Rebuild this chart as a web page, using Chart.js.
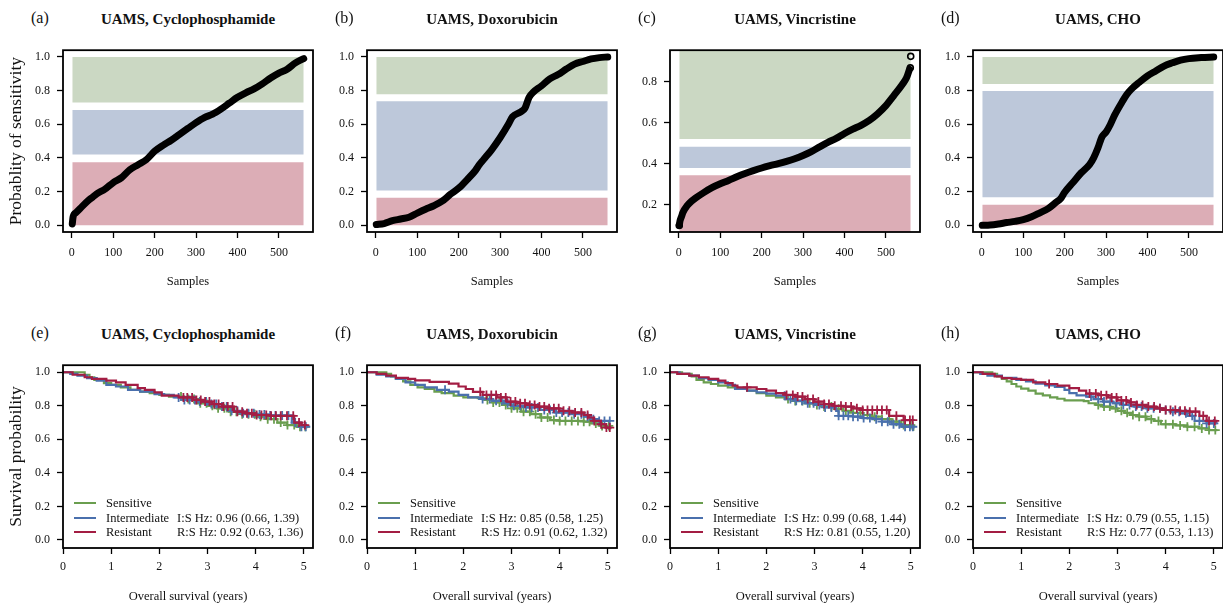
<!DOCTYPE html>
<html>
<head>
<meta charset="utf-8">
<script src="https://cdn.jsdelivr.net/npm/chart.js@4.4.0/dist/chart.umd.min.js"></script>
<style>
  body { margin: 0; width: 1223px; height: 604px; position: relative; overflow: hidden; background: #fff;
         font-family: "Liberation Serif", "Times New Roman", serif; color: #111; }
  canvas { position: absolute; }
  .letter { position: absolute; font-size: 16px; transform: translateY(-50%); white-space: nowrap; }
  .title { position: absolute; font-size: 15px; font-weight: bold; transform: translate(-50%, -50%); white-space: nowrap; }
  .legtxt { position: absolute; font-size: 12.5px; line-height: 1; transform: translateY(-50%); white-space: nowrap; }
  .legline { position: absolute; height: 2px; width: 22px; }
</style>
</head>
<body>
<script>
// ---- data ----
const drugs = ['Cyclophosphamide', 'Doxorubicin', 'Vincristine', 'CHO'];
const topLetters = ['(a)', '(b)', '(c)', '(d)'];
const bottomLetters = ['(e)', '(f)', '(g)', '(h)'];
const groups = ['Sensitive', 'Intermediate', 'Resistant'];

// sorted probability of sensitivity (sample rank -> probability)
const cycRank = [1, 3, 10, 20, 40, 50, 60, 80, 100, 120, 140, 160, 180, 200, 220, 240, 260, 280, 300, 320, 340, 360, 380, 400, 420, 440, 460, 480, 500, 520, 540, 560];
const cycProb = [0.008, 0.05, 0.075, 0.10, 0.148, 0.167, 0.187, 0.215, 0.254, 0.283, 0.33, 0.36, 0.39, 0.44, 0.475, 0.505, 0.54, 0.575, 0.61, 0.64, 0.66, 0.69, 0.725, 0.76, 0.787, 0.81, 0.84, 0.875, 0.904, 0.927, 0.965, 0.99];

const doxRank = [1, 20, 40, 60, 80, 100, 120, 140, 160, 180, 200, 220, 240, 250, 260, 280, 300, 320, 330, 350, 360, 370, 380, 400, 420, 440, 460, 480, 500, 520, 540, 560];
const doxProb = [0.004, 0.01, 0.027, 0.037, 0.048, 0.072, 0.095, 0.116, 0.143, 0.184, 0.22, 0.27, 0.324, 0.36, 0.39, 0.45, 0.52, 0.60, 0.645, 0.674, 0.695, 0.76, 0.79, 0.828, 0.87, 0.895, 0.928, 0.957, 0.973, 0.988, 0.996, 1.0];

const vinRank = [1, 3, 6, 10, 20, 30, 40, 60, 80, 100, 120, 140, 160, 180, 200, 220, 240, 260, 280, 300, 320, 340, 360, 380, 400, 420, 440, 460, 480, 500, 520, 540, 550, 557];
const vinProb = [0.10, 0.123, 0.14, 0.163, 0.195, 0.216, 0.232, 0.259, 0.283, 0.302, 0.318, 0.336, 0.352, 0.366, 0.379, 0.39, 0.40, 0.411, 0.424, 0.44, 0.459, 0.482, 0.504, 0.523, 0.547, 0.568, 0.587, 0.611, 0.643, 0.683, 0.734, 0.787, 0.819, 0.86];
const vinOutRank = [1, 559, 560];
const vinOutProb = [0.099, 0.867, 0.923];

const choRank = [1, 20, 40, 60, 80, 100, 120, 140, 160, 180, 190, 200, 220, 240, 260, 270, 280, 290, 300, 310, 320, 340, 350, 360, 380, 400, 420, 440, 460, 480, 500, 530, 560];
const choProb = [0.0, 0.002, 0.008, 0.016, 0.023, 0.033, 0.05, 0.074, 0.099, 0.138, 0.157, 0.196, 0.254, 0.312, 0.36, 0.40, 0.457, 0.525, 0.554, 0.597, 0.651, 0.738, 0.777, 0.806, 0.849, 0.888, 0.917, 0.946, 0.965, 0.981, 0.99, 0.996, 1.0];

// class bands [low, high]: sensitive, intermediate, resistant
const cycBands = [[0.73, 1.0], [0.42, 0.685], [0.0, 0.375]];
const doxBands = [[0.779, 1.0], [0.207, 0.736], [0.0, 0.163]];
const vinBands = [[0.52, 1.0], [0.379, 0.482], [0.0, 0.344]];
const choBands = [[0.839, 1.0], [0.167, 0.797], [0.0, 0.122]];

// Kaplan-Meier steps (time in years, survival) and censoring times
const cycSensT = [0, 0.45, 0.55, 0.65, 0.85, 1.0, 1.2, 1.4, 1.6, 1.8, 2.0, 2.2, 2.5, 2.8, 3.0, 3.2, 3.45, 3.7, 4.0, 4.25, 4.45, 4.65, 4.85, 5.05];
const cycSensS = [1, 0.985, 0.97, 0.955, 0.935, 0.925, 0.91, 0.895, 0.885, 0.875, 0.865, 0.855, 0.84, 0.815, 0.80, 0.785, 0.765, 0.75, 0.735, 0.72, 0.70, 0.685, 0.675, 0.665];
const cycSensC = [2.45, 2.6, 2.72, 2.85, 2.98, 3.1, 3.22, 3.35, 3.48, 3.6, 3.72, 3.85, 3.98, 4.1, 4.25, 4.38, 4.52, 4.66, 4.8, 4.92, 5.03];
const cycInterT = [0, 0.15, 0.3, 0.5, 0.7, 0.9, 1.1, 1.35, 1.6, 1.9, 2.1, 2.3, 2.5, 2.75, 3.0, 3.2, 3.5, 3.7, 4.0, 4.3, 4.75, 4.95, 5.05];
const cycInterS = [1, 0.99, 0.98, 0.965, 0.95, 0.925, 0.915, 0.895, 0.885, 0.87, 0.865, 0.85, 0.835, 0.825, 0.81, 0.795, 0.77, 0.755, 0.748, 0.742, 0.70, 0.675, 0.67];
const cycInterC = [2.4, 2.52, 2.63, 2.74, 2.84, 2.97, 3.08, 3.18, 3.3, 3.4, 3.5, 3.62, 3.74, 3.85, 3.96, 4.08, 4.18, 4.3, 4.41, 4.55, 4.68, 4.82, 4.95, 5.04];
const cycResT = [0, 0.2, 0.45, 0.6, 0.9, 1.1, 1.3, 1.55, 1.7, 1.9, 2.05, 2.4, 2.7, 2.9, 3.1, 3.3, 3.55, 3.8, 4.0, 4.3, 4.8, 4.95, 5.05];
const cycResS = [1, 0.985, 0.97, 0.96, 0.95, 0.94, 0.925, 0.905, 0.895, 0.88, 0.86, 0.85, 0.835, 0.825, 0.81, 0.795, 0.765, 0.755, 0.745, 0.74, 0.70, 0.685, 0.68];
const cycResC = [2.5, 2.58, 2.68, 2.77, 2.86, 2.95, 3.04, 3.14, 3.23, 3.33, 3.42, 3.52, 3.62, 3.72, 3.82, 3.92, 4.02, 4.12, 4.22, 4.32, 4.42, 4.52, 4.65, 4.78, 4.9, 5.02];

const doxSensT = [0, 0.4, 0.5, 0.6, 0.75, 0.9, 1.05, 1.2, 1.4, 1.55, 1.8, 2.0, 2.3, 2.45, 2.6, 2.8, 3.0, 3.2, 3.4, 3.6, 3.8, 4.0, 4.5, 4.65, 4.85, 5.05];
const doxSensS = [1, 0.99, 0.975, 0.96, 0.945, 0.925, 0.91, 0.90, 0.885, 0.875, 0.86, 0.85, 0.845, 0.835, 0.82, 0.805, 0.785, 0.765, 0.75, 0.73, 0.715, 0.71, 0.705, 0.695, 0.68, 0.665];
const doxSensC = [2.5, 2.62, 2.75, 2.88, 3.0, 3.12, 3.25, 3.38, 3.5, 3.62, 3.75, 3.88, 4.0, 4.12, 4.25, 4.38, 4.5, 4.62, 4.75, 4.88, 5.02];
const doxInterT = [0, 0.2, 0.4, 0.6, 0.8, 1.0, 1.2, 1.45, 1.7, 1.9, 2.1, 2.4, 2.6, 2.85, 3.0, 3.3, 3.6, 3.9, 4.2, 4.5, 4.65, 4.8, 5.05];
const doxInterS = [1, 0.985, 0.975, 0.96, 0.94, 0.925, 0.91, 0.895, 0.885, 0.865, 0.85, 0.84, 0.83, 0.815, 0.80, 0.79, 0.775, 0.76, 0.75, 0.735, 0.72, 0.71, 0.71];
const doxInterC = [1.62, 2.4, 2.55, 2.68, 2.8, 2.92, 3.05, 3.18, 3.3, 3.42, 3.55, 3.68, 3.8, 3.93, 4.05, 4.18, 4.3, 4.45, 4.58, 4.7, 4.82, 4.93, 5.04];
const doxResT = [0, 0.2, 0.4, 0.6, 0.85, 1.0, 1.3, 1.7, 1.9, 2.05, 2.2, 2.4, 2.7, 2.9, 3.1, 3.3, 3.5, 3.75, 4.0, 4.25, 4.5, 4.6, 4.7, 4.85, 4.95, 5.05];
const doxResS = [1, 0.99, 0.98, 0.967, 0.96, 0.952, 0.942, 0.932, 0.915, 0.90, 0.883, 0.865, 0.85, 0.825, 0.815, 0.805, 0.795, 0.785, 0.77, 0.76, 0.745, 0.73, 0.71, 0.69, 0.67, 0.66];
const doxResC = [2.35, 2.48, 2.58, 2.68, 2.78, 2.88, 2.98, 3.08, 3.18, 3.28, 3.38, 3.48, 3.58, 3.68, 3.78, 3.88, 3.98, 4.08, 4.2, 4.32, 4.45, 4.58, 4.72, 4.86, 4.97, 5.04];

const vinSensT = [0, 0.25, 0.45, 0.55, 0.7, 0.85, 1.0, 1.2, 1.4, 1.6, 1.8, 2.0, 2.2, 2.4, 2.6, 2.8, 3.0, 3.2, 3.4, 3.6, 3.8, 4.0, 4.2, 4.4, 4.6, 4.8, 5.05];
const vinSensS = [1, 0.99, 0.975, 0.955, 0.94, 0.93, 0.92, 0.91, 0.90, 0.89, 0.875, 0.86, 0.85, 0.84, 0.828, 0.815, 0.805, 0.795, 0.782, 0.77, 0.758, 0.745, 0.735, 0.72, 0.705, 0.685, 0.65];
const vinSensC = [2.45, 2.6, 2.75, 2.9, 3.05, 3.2, 3.35, 3.5, 3.65, 3.8, 3.95, 4.1, 4.25, 4.4, 4.55, 4.7, 4.85, 5.0];
const vinInterT = [0, 0.2, 0.4, 0.6, 0.8, 1.0, 1.2, 1.35, 1.6, 1.8, 2.0, 2.2, 2.4, 2.6, 2.8, 3.0, 3.2, 3.45, 3.5, 3.8, 4.0, 4.2, 4.4, 4.6, 4.8, 5.05];
const vinInterS = [1, 0.99, 0.98, 0.965, 0.955, 0.94, 0.925, 0.90, 0.89, 0.88, 0.873, 0.86, 0.84, 0.83, 0.815, 0.805, 0.79, 0.77, 0.74, 0.735, 0.727, 0.72, 0.705, 0.69, 0.675, 0.66];
const vinInterC = [2.38, 2.5, 2.62, 2.74, 2.86, 2.98, 3.1, 3.22, 3.35, 3.5, 3.6, 3.7, 3.8, 3.9, 4.02, 4.15, 4.28, 4.4, 4.52, 4.64, 4.76, 4.88, 4.98, 5.04];
const vinResT = [0, 0.15, 0.4, 0.6, 0.8, 1.0, 1.15, 1.3, 1.4, 1.8, 2.0, 2.2, 2.4, 2.6, 2.8, 3.0, 3.2, 3.4, 3.6, 3.8, 4.0, 4.55, 4.85, 5.05];
const vinResS = [1, 0.99, 0.98, 0.97, 0.96, 0.95, 0.935, 0.92, 0.91, 0.90, 0.89, 0.875, 0.865, 0.855, 0.84, 0.825, 0.81, 0.80, 0.795, 0.785, 0.775, 0.74, 0.715, 0.71];
const vinResC = [1.6, 2.42, 2.55, 2.65, 2.75, 2.86, 2.97, 3.08, 3.2, 3.3, 3.42, 3.55, 3.65, 3.76, 3.88, 4.0, 4.1, 4.2, 4.3, 4.4, 4.5, 4.7, 4.88, 4.98, 5.04];

const choSensT = [0, 0.4, 0.5, 0.6, 0.7, 0.8, 0.9, 1.0, 1.15, 1.3, 1.45, 1.6, 1.75, 1.9, 2.3, 2.4, 2.55, 2.7, 2.85, 3.0, 3.15, 3.3, 3.45, 3.6, 3.75, 3.9, 4.2, 4.45, 4.7, 4.9, 5.05];
const choSensS = [1, 0.99, 0.975, 0.96, 0.945, 0.93, 0.915, 0.902, 0.89, 0.873, 0.862, 0.85, 0.842, 0.832, 0.828, 0.815, 0.805, 0.795, 0.785, 0.77, 0.758, 0.745, 0.735, 0.72, 0.71, 0.69, 0.683, 0.675, 0.665, 0.655, 0.648];
const choSensC = [2.6, 2.72, 2.84, 2.96, 3.08, 3.2, 3.32, 3.45, 3.58, 3.7, 3.85, 4.0, 4.15, 4.3, 4.45, 4.6, 4.75, 4.9, 5.03];
const choInterT = [0, 0.15, 0.3, 0.6, 0.9, 1.1, 1.3, 1.5, 1.7, 1.9, 2.0, 2.15, 2.35, 2.5, 2.7, 2.9, 3.1, 3.35, 3.6, 3.9, 4.1, 4.3, 4.45, 4.6, 4.85, 5.05];
const choInterS = [1, 0.99, 0.98, 0.967, 0.955, 0.945, 0.932, 0.922, 0.912, 0.895, 0.875, 0.862, 0.855, 0.84, 0.825, 0.815, 0.805, 0.795, 0.785, 0.775, 0.765, 0.755, 0.74, 0.71, 0.695, 0.69];
const choInterC = [2.45, 2.6, 2.72, 2.85, 2.98, 3.12, 3.25, 3.38, 3.5, 3.62, 3.75, 3.88, 4.0, 4.15, 4.28, 4.42, 4.55, 4.7, 4.85, 5.0];
const choResT = [0, 0.2, 0.45, 0.6, 0.8, 1.0, 1.25, 1.5, 1.75, 2.0, 2.2, 2.35, 2.6, 2.8, 3.0, 3.2, 3.4, 3.6, 3.8, 4.0, 4.3, 4.5, 4.7, 4.85, 5.05];
const choResS = [1, 0.99, 0.975, 0.965, 0.96, 0.955, 0.94, 0.93, 0.92, 0.905, 0.89, 0.873, 0.863, 0.85, 0.832, 0.82, 0.805, 0.795, 0.785, 0.775, 0.77, 0.765, 0.74, 0.71, 0.70];
const choResC = [1.58, 2.42, 2.55, 2.66, 2.77, 2.88, 2.98, 3.08, 3.18, 3.28, 3.4, 3.52, 3.64, 3.76, 3.88, 4.0, 4.1, 4.2, 4.3, 4.4, 4.5, 4.62, 4.78, 4.9, 5.02];

// hazard ratios (95% CI)
const hzIS = ['0.96 (0.66, 1.39)', '0.85 (0.58, 1.25)', '0.99 (0.68, 1.44)', '0.79 (0.55, 1.15)'];
const hzRS = ['0.92 (0.63, 1.36)', '0.91 (0.62, 1.32)', '0.81 (0.55, 1.20)', '0.77 (0.53, 1.13)'];

const probTicks = [0, 0.2, 0.4, 0.6, 0.8, 1.0];
const vinProbTicks = [0.2, 0.4, 0.6, 0.8];
const sampleTicks = [0, 100, 200, 300, 400, 500];
const yearTicks = [0, 1, 2, 3, 4, 5];
const survTicks = [0, 0.2, 0.4, 0.6, 0.8, 1.0];

// ---- styling / layout ----
const GREEN = '#6a9e4f', BLUE = '#4a70ad', RED = '#a31d43';
const BAND_COLORS = ['#cbd8c3', '#bdc8da', '#dcadb6'];
const boxLefts = [63, 367, 670, 973];
const FONT = 'Liberation Serif';

// step value of a KM curve at time t
function stepValue(times, surv, t) {
  let v = surv[0];
  for (let i = 0; i < times.length; i++) { if (times[i] <= t) v = surv[i]; }
  return v;
}

const boxPlugin = {
  id: 'box',
  afterDraw(chart) {
    const { ctx, chartArea: a } = chart;
    ctx.save();
    ctx.strokeStyle = '#000';
    ctx.lineWidth = 1.8;
    ctx.strokeRect(a.left, a.top, a.right - a.left, a.bottom - a.top);
    ctx.restore();
  }
};

function tickGrid() {
  return { display: true, drawOnChartArea: false, drawTicks: true, tickLength: 6, tickColor: '#000', tickWidth: 1.3 };
}

function xAxis(min, max, ticks, title, height, pad) {
  return {
    type: 'linear', min: min, max: max,
    afterBuildTicks: ax => { ax.ticks = ticks.map(v => ({ value: v })); },
    afterFit: ax => { ax.height = height; },
    grid: tickGrid(),
    border: { display: false },
    ticks: { font: { family: FONT, size: 12 }, color: '#111', padding: pad, maxRotation: 0, autoSkip: false,
             callback: v => String(v) },
    title: { display: true, text: title, font: { family: FONT, size: 12.5 }, color: '#111', padding: { top: 0, bottom: 3.5 } }
  };
}

function yAxis(min, max, ticks, title) {
  return {
    type: 'linear', min: min, max: max,
    afterBuildTicks: ax => { ax.ticks = ticks.map(v => ({ value: v })); },
    afterFit: ax => { ax.width = 63; },
    grid: tickGrid(),
    border: { display: false },
    ticks: { font: { family: FONT, size: 12 }, color: '#111', padding: 7, autoSkip: false,
             callback: v => v.toFixed(1) },
    title: { display: !!title, text: title || '', font: { family: FONT, size: 17.5 }, color: '#111', padding: { top: 6 } }
  };
}

function addCanvas(left, top) {
  const c = document.createElement('canvas');
  c.width = 325; c.height = 257;
  c.style.left = left + 'px'; c.style.top = top + 'px';
  c.style.width = '325px'; c.style.height = '257px';
  document.body.appendChild(c);
  return c;
}

function addText(cls, text, x, y) {
  const d = document.createElement('div');
  d.className = cls; d.textContent = text;
  d.style.left = x + 'px'; d.style.top = y + 'px';
  document.body.appendChild(d);
  return d;
}

function bandDataset(range, color) {
  return { data: [{ x: 1, y: range[1] }, { x: 560, y: range[1] }], fill: { target: { value: range[0] } },
           backgroundColor: color, borderWidth: 0, pointRadius: 0, order: 5 };
}

function topPanel(k, rank, prob, bands, yMin, yMax, yTicks, extra) {
  const left = boxLefts[k];
  const canvas = addCanvas(left - 63, 36);
  const datasets = bands.map((b, j) => bandDataset(b, BAND_COLORS[j]));
  datasets.push({ data: rank.map((r, i) => ({ x: r, y: prob[i] })), borderColor: '#000', borderWidth: 7,
                  borderCapStyle: 'round', borderJoinStyle: 'round', cubicInterpolationMode: 'monotone',
                  pointRadius: 0, fill: false, order: 1 });
  if (extra) datasets.push(extra);
  new Chart(canvas, {
    type: 'line',
    data: { datasets: datasets },
    options: {
      responsive: false, animation: false, devicePixelRatio: 1,
      layout: { padding: { left: 0, right: 12, top: 10, bottom: 0 } },
      plugins: { legend: { display: false }, tooltip: { enabled: false } },
      scales: {
        x: xAxis(-21.4, 582.4, sampleTicks, 'Samples', 61, 8),
        y: yAxis(yMin, yMax, yTicks, k === 0 ? 'Probablity of sensitivity' : '')
      }
    },
    plugins: [boxPlugin]
  });
  addText('letter', topLetters[k], left - 32, 18);
  addText('title', 'UAMS, ' + drugs[k], left + 125, 18.5);
}

function kmDatasets(times, surv, cens, color, order) {
  return [
    { data: times.map((t, i) => ({ x: t, y: surv[i] })), stepped: true, borderColor: color, borderWidth: 2.2,
      pointRadius: 0, fill: false, order: order },
    { data: cens.map(t => ({ x: t, y: stepValue(times, surv, t) })), showLine: false, pointStyle: 'cross',
      pointRadius: 4.5, pointBorderWidth: 1.8, pointBorderColor: color, borderColor: color, order: order }
  ];
}

function survPanel(k, sens, inter, res) {
  const left = boxLefts[k];
  const canvas = addCanvas(left - 63, 351);
  const datasets = [].concat(
    kmDatasets(sens[0], sens[1], sens[2], GREEN, 3),
    kmDatasets(inter[0], inter[1], inter[2], BLUE, 2),
    kmDatasets(res[0], res[1], res[2], RED, 1)
  );
  new Chart(canvas, {
    type: 'line',
    data: { datasets: datasets },
    options: {
      responsive: false, animation: false, devicePixelRatio: 1,
      layout: { padding: { left: 0, right: 12, top: 10, bottom: 0 } },
      plugins: { legend: { display: false }, tooltip: { enabled: false } },
      scales: {
        x: xAxis(0, 5.19, yearTicks, 'Overall survival (years)', 60, 6),
        y: yAxis(-0.048, 1.042, survTicks, k === 0 ? 'Survival probability' : '')
      }
    },
    plugins: [boxPlugin]
  });
  addText('letter', bottomLetters[k], left - 32, 333);
  addText('title', 'UAMS, ' + drugs[k], left + 125, 334);
  // legend inside the plot
  const rowsY = [503, 518, 532];
  [GREEN, BLUE, RED].forEach((c, j) => {
    const ln = document.createElement('div');
    ln.className = 'legline';
    ln.style.left = (left + 11) + 'px'; ln.style.top = (rowsY[j] - 1) + 'px'; ln.style.background = c;
    document.body.appendChild(ln);
    addText('legtxt', groups[j], left + 43, rowsY[j]);
  });
  addText('legtxt', 'I:S Hz: ' + hzIS[k], left + 114, rowsY[1]);
  addText('legtxt', 'R:S Hz: ' + hzRS[k], left + 114, rowsY[2]);
}

topPanel(0, cycRank, cycProb, cycBands, -0.04, 1.04, probTicks);
topPanel(1, doxRank, doxProb, doxBands, -0.04, 1.04, probTicks);
topPanel(2, vinRank, vinProb, vinBands, 0.067, 0.953, vinProbTicks, {
  data: vinOutRank.map((r, i) => ({ x: r, y: vinOutProb[i] })), showLine: false, pointStyle: 'circle',
  pointRadius: 3, pointBorderWidth: 1.6, pointBorderColor: '#000', pointBackgroundColor: 'rgba(0,0,0,0)', order: 0
});
topPanel(3, choRank, choProb, choBands, -0.04, 1.04, probTicks);

survPanel(0, [cycSensT, cycSensS, cycSensC], [cycInterT, cycInterS, cycInterC], [cycResT, cycResS, cycResC]);
survPanel(1, [doxSensT, doxSensS, doxSensC], [doxInterT, doxInterS, doxInterC], [doxResT, doxResS, doxResC]);
survPanel(2, [vinSensT, vinSensS, vinSensC], [vinInterT, vinInterS, vinInterC], [vinResT, vinResS, vinResC]);
survPanel(3, [choSensT, choSensS, choSensC], [choInterT, choInterS, choInterC], [choResT, choResS, choResC]);
</script>
</body>
</html>
